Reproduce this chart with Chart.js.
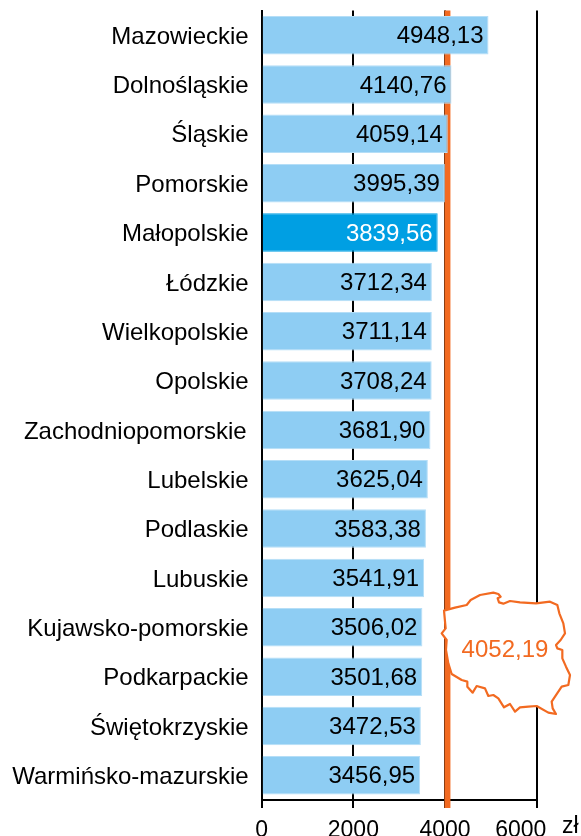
<!DOCTYPE html>
<html><head><meta charset="utf-8">
<script src="https://cdn.jsdelivr.net/npm/chart.js@4"></script>
<style>html,body{margin:0;padding:0;background:#fff;overflow:hidden}#w{width:581px;height:836px}</style>
</head><body><div id="w"><canvas id="c" width="581" height="836"></canvas></div>
<script>
const categories = ["Mazowieckie","Dolnośląskie","Śląskie","Pomorskie","Małopolskie","Łódzkie","Wielkopolskie","Opolskie","Zachodniopomorskie\u200A","Lubelskie","Podlaskie","Lubuskie","Kujawsko-pomorskie","Podkarpackie","Świętokrzyskie","Warmińsko-mazurskie"];
const values = [4948.13,4140.76,4059.14,3995.39,3839.56,3712.34,3711.14,3708.24,3681.90,3625.04,3583.38,3541.91,3506.02,3501.68,3472.53,3456.95];
const highlighted = "Małopolskie";
const average = 4052.19;
const xTicks = [0,2000,4000,6000];
const unit = "zł";
const outline = [[42,122],[75,113],[110,105],[122,90],[150,75],[190,68],[205,72],[212,80],[203,85],[207,97],[220,101],[240,93],[270,97],[318,100],[360,95],[382,105],[388,130],[400,160],[405,190],[392,210],[378,225],[382,235],[397,240],[397,265],[408,290],[420,315],[415,345],[395,350],[365,395],[368,415],[378,432],[355,428],[320,408],[295,410],[270,412],[255,425],[240,402],[222,412],[205,385],[190,375],[175,378],[165,355],[140,348],[128,368],[112,350],[112,335],[95,330],[65,312],[55,280],[48,240],[50,210],[35,190],[47,175]];

const FONT = '"Liberation Sans", Arial, sans-serif';
const ORANGE = '#F26A21';
const fmt = v => v.toFixed(2).replace('.', ',');

const overlay = {
  id: 'overlay',
  beforeDatasetsDraw(chart) {
    const {ctx, scales: {x}, chartArea: a} = chart;
    const px = x.getPixelForValue(average);
    ctx.save();
    ctx.strokeStyle = ORANGE; ctx.lineWidth = 6;
    ctx.beginPath(); ctx.moveTo(px, a.top); ctx.lineTo(px, a.bottom + 8); ctx.stroke();
    ctx.restore();
  },
  afterDatasetsDraw(chart) {
    const {ctx, scales: {x, y}} = chart;
    ctx.save();
    ctx.font = '24px ' + FONT;
    ctx.textAlign = 'right'; ctx.textBaseline = 'middle';
    values.forEach((v, i) => {
      ctx.fillStyle = categories[i] === highlighted ? '#fff' : '#000';
      ctx.fillText(fmt(v), x.getPixelForValue(v) - 5, y.getPixelForValue(i) + 1.5);
    });
    ctx.fillStyle = '#000';
    ctx.textAlign = 'left';
    ctx.font = '23px ' + FONT;
    ctx.fillText(unit, 562, 827);
    // map of Poland
    ctx.beginPath();
    outline.forEach(([a, b], i) => {
      const X = 430 + a / 3, Y = 570 + b / 3;
      i ? ctx.lineTo(X, Y) : ctx.moveTo(X, Y);
    });
    ctx.closePath();
    ctx.fillStyle = '#fff';
    ctx.strokeStyle = ORANGE; ctx.lineWidth = 2.2; ctx.lineJoin = 'round';
    ctx.fill(); ctx.stroke();
    ctx.fillStyle = ORANGE;
    ctx.textAlign = 'center';
    ctx.font = '24px ' + FONT;
    ctx.fillText(fmt(average), 505, 650);
    ctx.restore();
  }
};

new Chart(document.getElementById('c'), {
  type: 'bar',
  data: {
    labels: categories,
    datasets: [{
      data: values,
      backgroundColor: categories.map(c => c === highlighted ? '#009FE3' : '#8ECDF3'),
      borderColor: categories.map(c => c === highlighted ? '#009FE3' : '#B5DEF7'),
      borderWidth: 1,
      barPercentage: 0.78,
      categoryPercentage: 1
    }]
  },
  plugins: [overlay],
  options: {
    indexAxis: 'y',
    responsive: false,
    animation: false,
    layout: {padding: {top: 10.5, right: 44.3, left: 0, bottom: 0}},
    plugins: {legend: {display: false}, tooltip: {enabled: false}},
    scales: {
      x: {
        min: 0, max: 6000,
        afterBuildTicks: s => { s.ticks = xTicks.map(value => ({value})); },
        afterFit: s => { s.height = 36; s.paddingRight = 0; s.paddingLeft = 0; },
        grid: {color: '#000', lineWidth: 2, tickLength: 8, tickColor: '#000', drawTicks: true},
        border: {color: '#000', width: 2},
        ticks: {color: '#000', font: {size: 23, family: FONT}, padding: 9, maxRotation: 0, autoSkip: false,
                callback: v => v === 6000 ? '6000     ' : String(v)}
      },
      y: {
        afterFit: s => { s.width = 261.7; s.paddingTop = 0; s.paddingBottom = 0; },
        grid: {display: false},
        border: {color: '#000', width: 2},
        ticks: {color: '#000', font: {size: 24, family: FONT}, padding: 5, labelOffset: 2, autoSkip: false}
      }
    }
  }
});
</script></body></html>
